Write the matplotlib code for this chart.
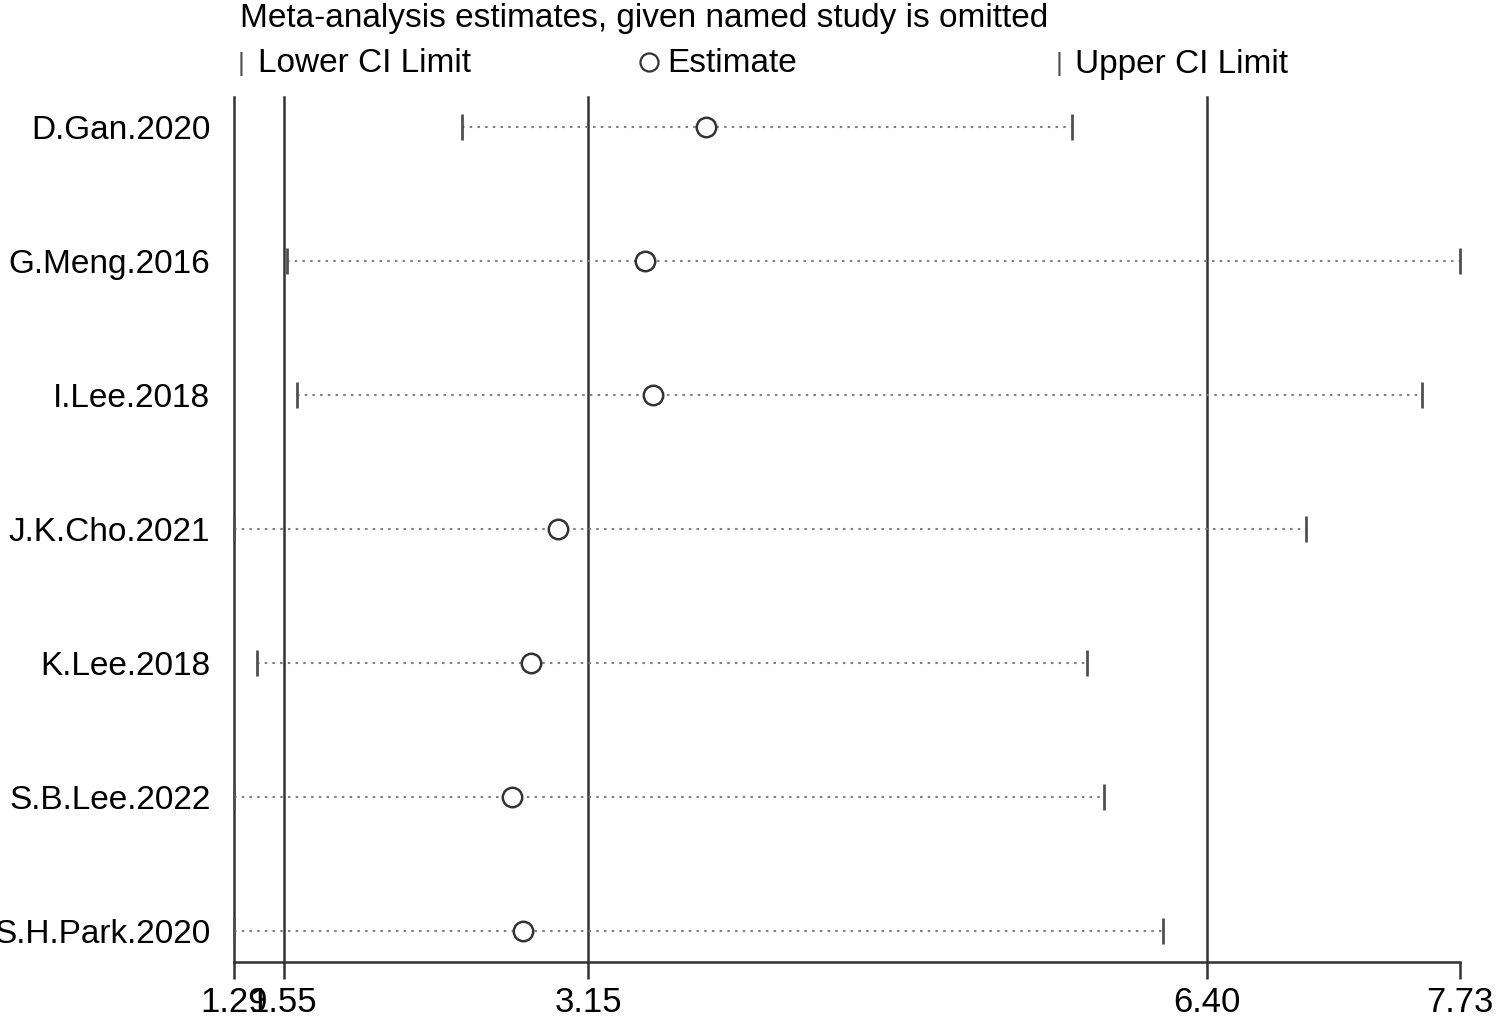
import numpy as np
import matplotlib
matplotlib.use("Agg")
import matplotlib.pyplot as plt

plt.rcParams['font.family'] = ['Liberation Sans', 'DejaVu Sans']

# estudos omitidos e estimativas
studies = ["D.Gan.2020", "G.Meng.2016", "I.Lee.2018", "J.K.Cho.2021",
           "K.Lee.2018", "S.B.Lee.2022", "S.H.Park.2020"]
lower = [2.49, 1.57, 1.62, 1.29, 1.41, 1.29, 1.29]
estimate = [3.77, 3.45, 3.49, 2.99, 2.85, 2.75, 2.81]
upper = [5.69, 7.73, 7.53, 6.92, 5.77, 5.86, 6.17]

ref_lines = [1.29, 1.55, 3.15, 6.40]
xticks = [1.29, 1.55, 3.15, 6.40, 7.73]
xticklabels = ["1.29", "1.55", "3.15", "6.40", "7.73"]

fig = plt.figure(figsize=(15.05, 10.16), dpi=100)
ax = fig.add_axes([0.1555, 0.0531, 0.8146, 0.8514])

ypos = np.arange(len(studies))
cor = "#333333"

for x in ref_lines:
    ax.axvline(x, color=cor, lw=1.8, zorder=1, clip_on=False)

for i in ypos:
    ax.plot([lower[i], upper[i]], [i, i], linestyle=(0, (1.2, 2.5)),
            color="#808080", lw=1.5, zorder=2)

ax.plot(lower, ypos, linestyle="None", marker="|", markersize=19,
        markeredgewidth=2, color="#505050", zorder=3, clip_on=False)
ax.plot(upper, ypos, linestyle="None", marker="|", markersize=19,
        markeredgewidth=2, color="#505050", zorder=3, clip_on=False)
ax.plot(estimate, ypos, linestyle="None", marker="o", markersize=14,
        markerfacecolor="white", markeredgecolor="#333333",
        markeredgewidth=1.8, zorder=4)

ax.set_xlim(1.29, 7.73)
ax.set_ylim(6.23, -0.22)
ax.set_xticks(xticks)
ax.set_xticklabels(xticklabels, fontsize=25)
ax.set_yticks(ypos)
ax.set_yticklabels(studies, fontsize=24)
ax.tick_params(axis="y", length=0, pad=17)
ax.tick_params(axis="x", direction="out", length=12, width=1.8,
               color=cor, pad=5)

for s in ["top", "right", "left"]:
    ax.spines[s].set_visible(False)
ax.spines["bottom"].set_color(cor)
ax.spines["bottom"].set_linewidth(1.8)

# titulo e legenda acima do grafico
y_tit = 1 - 18 / 1016
y_leg = 1 - 64 / 1016
fig.text(240 / 1505, y_tit, "Meta-analysis estimates, given named study is omitted",
         fontsize=24, va="center", ha="left")
fig.text(238 / 1505, y_leg, "|", fontsize=19, va="center", ha="left", color="#505050")
fig.text(258 / 1505, y_leg, "Lower CI Limit", fontsize=24, va="center", ha="left")
fig.lines.append(plt.Line2D([649 / 1505], [1 - 62 / 1016], marker="o", markersize=13,
                            markerfacecolor="white", markeredgecolor="#333333",
                            markeredgewidth=1.6, transform=fig.transFigure))
fig.text(667 / 1505, y_leg, "Estimate", fontsize=24, va="center", ha="left")
fig.text(1056 / 1505, y_leg, "|", fontsize=19, va="center", ha="left", color="#505050")
fig.text(1075 / 1505, y_leg, "Upper CI Limit", fontsize=24, va="center", ha="left")

fig.savefig("out.png", dpi=100)
